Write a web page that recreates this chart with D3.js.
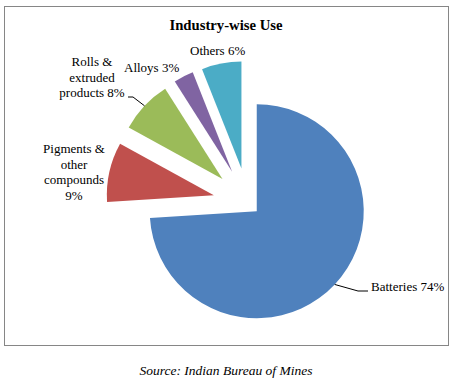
<!DOCTYPE html>
<html><head>
<meta charset="utf-8">
<title>Industry-wise Use</title>
<script src="https://d3js.org/d3.v7.min.js"></script>
</head>
<body style="margin:0;background:#fff">
<div id="chart"></div>
<script>
// data
var categories = ["Batteries", "Pigments & other compounds", "Rolls & extruded products", "Alloys", "Others"];
var shares = [74, 9, 8, 3, 6];
var labelLines = [
  ["Batteries 74%"],
  ["Pigments &", "other", "compounds", "9%"],
  ["Rolls &", "extruded", "products 8%"],
  ["Alloys 3%"],
  ["Others 6%"]
];

var width = 454, height = 382;
var cx = 248, cy = 203, radius = 107;
var explode = [12, 35, 35, 35, 35];
var serif = "Liberation Serif";

var color = d3.scaleOrdinal()
  .domain(categories)
  .range(["#4f81bd", "#c0504d", "#9bbb59", "#8064a2", "#4bacc6"]);

// label placement (absolute) and leader line elbows
var labelLayout = [
  {x: 371, y: 291, anchor: "start", leader: [[358, 291], [368, 291]]},
  {x: 74, y: 153, anchor: "middle"},
  {x: 92, y: 66, anchor: "middle", leader: [[133, 97], [128, 97]]},
  {x: 124, y: 72, anchor: "start"},
  {x: 190, y: 55, anchor: "start"}
];

var svg = d3.select("#chart").append("svg")
  .attr("width", width)
  .attr("height", height)
  .attr("font-family", serif);

svg.append("rect")
  .attr("x", 4.5).attr("y", 6.5)
  .attr("width", 444).attr("height", 339)
  .attr("fill", "#fff")
  .attr("stroke", "#868686");

svg.append("text")
  .attr("x", 226).attr("y", 30)
  .attr("text-anchor", "middle")
  .attr("font-size", 14.7)
  .attr("font-weight", "bold")
  .text("Industry-wise Use");

var pie = d3.pie().sort(null).value(function(d) { return d; });
var arcs = pie(shares);
var arc = d3.arc().innerRadius(0).outerRadius(radius);

function offset(d, r) {
  var a = (d.startAngle + d.endAngle) / 2;
  return [cx + r * Math.sin(a), cy - r * Math.cos(a)];
}

svg.selectAll("path.slice")
  .data(arcs)
  .enter().append("path")
    .attr("class", "slice")
    .attr("transform", function(d, i) {
      var p = offset(d, explode[i]);
      return "translate(" + p[0] + "," + p[1] + ")";
    })
    .attr("d", arc)
    .attr("fill", function(d, i) { return color(categories[i]); });

// leader lines
arcs.forEach(function(d, i) {
  var lay = labelLayout[i];
  if (!lay.leader) return;
  var pts = [offset(d, explode[i] + radius)].concat(lay.leader);
  svg.append("path")
    .attr("d", d3.line()(pts))
    .attr("fill", "none")
    .attr("stroke", "#000")
    .attr("stroke-width", 1);
});

// labels
labelLines.forEach(function(lines, i) {
  var lay = labelLayout[i];
  var t = svg.append("text")
    .attr("text-anchor", lay.anchor)
    .attr("font-size", 13);
  lines.forEach(function(s, j) {
    t.append("tspan")
      .attr("x", lay.x)
      .attr("y", lay.y + j * 15.5)
      .text(s);
  });
});

svg.append("text")
  .attr("x", 226).attr("y", 375)
  .attr("text-anchor", "middle")
  .attr("font-size", 13.5)
  .attr("font-style", "italic")
  .text("Source: Indian Bureau of Mines");
</script>
</body></html>
